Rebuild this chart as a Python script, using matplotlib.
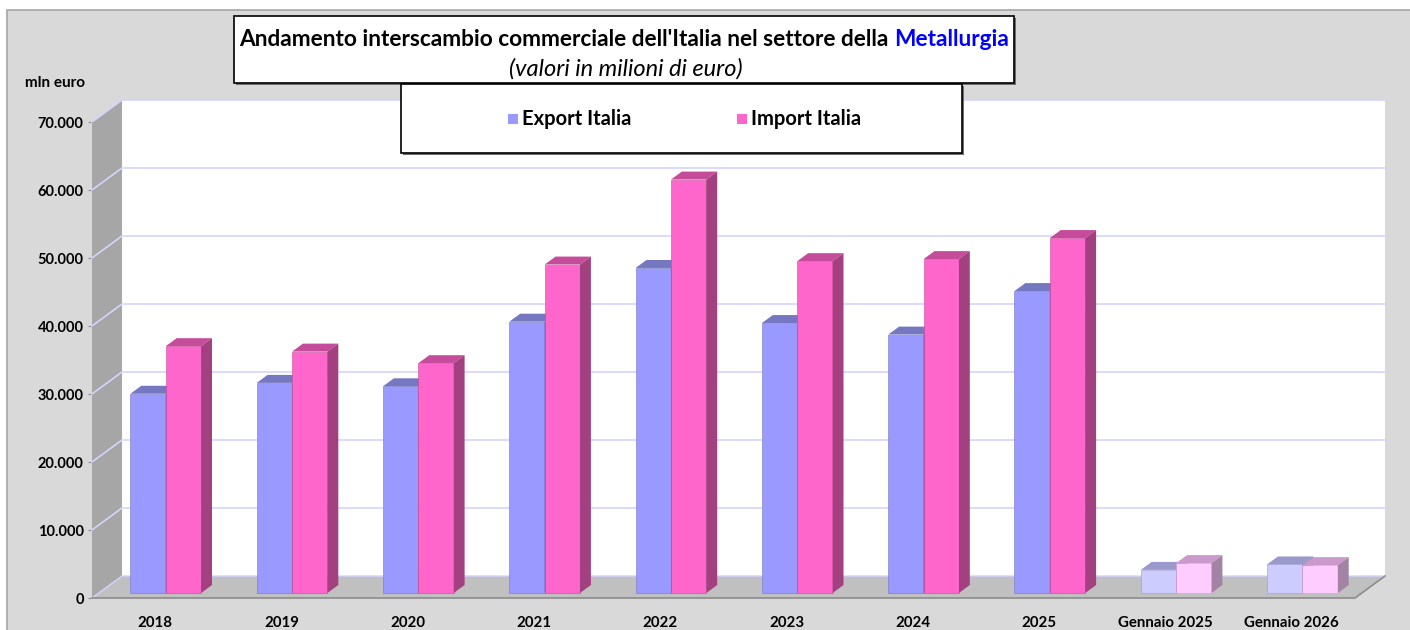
import numpy as np
import matplotlib.pyplot as plt
from matplotlib.patches import Polygon, Rectangle

plt.rcParams['font.family'] = ['Lato', 'DejaVu Sans']

#data
categories = ["2018", "2019", "2020", "2021", "2022", "2023", "2024", "2025",
              "Gennaio 2025", "Gennaio 2026"]
export_vals = [29300, 30900, 30400, 39900, 47800, 39700, 38000, 44400, 3400, 4200]
import_vals = [36300, 35500, 33800, 48300, 60800, 48800, 49100, 52200, 4400, 4100]
series_names = ["Export Italia", "Import Italia"]
y_ticks = [0, 10000, 20000, 30000, 40000, 50000, 60000, 70000]
y_tick_labels = ["0", "10.000", "20.000", "30.000", "40.000", "50.000", "60.000", "70.000"]

#colors (front, top, side) - last two categories are partial months, drawn pale
EXP_FULL = ("#9999ff", "#7577c0", "#5d5fa0")
IMP_FULL = ("#ff66cc", "#c44c9a", "#a3407f")
EXP_PALE = ("#ccccff", "#9999cc", "#8080aa")
IMP_PALE = ("#ffccff", "#cc99cc", "#a383a3")

W_PX, H_PX = 1410, 630


def fx(px):
    return px / W_PX


def fy(py):
    return 1 - py / H_PX


def fig_box(x0, y0, x1, y1, z, shadow=True):
    # box given in pixel coords (top-left origin), with a small drop shadow
    if shadow:
        fig.patches.append(Rectangle((fx(x0 + 2), fy(y1 + 2)), (x1 - x0) / W_PX, (y1 - y0) / H_PX,
                                     transform=fig.transFigure, facecolor="#707070",
                                     edgecolor="none", zorder=z - 0.5))
    fig.patches.append(Rectangle((fx(x0), fy(y1)), (x1 - x0) / W_PX, (y1 - y0) / H_PX,
                                 transform=fig.transFigure, facecolor="white",
                                 edgecolor="black", lw=1.2, zorder=z))


fig = plt.figure(figsize=(W_PX / 100, H_PX / 100), dpi=100)
fig.patch.set_facecolor("white")
fig.patches.append(Rectangle((fx(7), fy(640)), 1.1, (640 - 10) / H_PX,
                             transform=fig.transFigure, facecolor="#d9d9d9",
                             edgecolor="#a6a6a6", lw=1.2, zorder=-1))

ax = fig.add_axes([fx(92), fy(598), 1263 / W_PX, 476 / H_PX])
ax.set_facecolor("none")
ax.set_xlim(-0.5, 9.5)
ax.set_ylim(0, 70000)
for s in ax.spines.values():
    s.set_visible(False)

#3d depth offset in data units
DX = 30 / 126.3
DY = 22 / 476 * 70000
F0, F1 = 0.227, 0.59
BW = 0.28

#walls and floor
ax.add_patch(Polygon([(-0.5, 0), (-0.5, 70000), (-0.5 + DX, 70000 + DY), (-0.5 + DX, DY)],
                     closed=True, facecolor="#a6a6a6", edgecolor="none", clip_on=False, zorder=1))
ax.add_patch(Rectangle((-0.5 + DX, DY), 10, 70000, facecolor="white",
                       edgecolor="none", clip_on=False, zorder=1))
ax.add_patch(Polygon([(-0.5, 0), (9.5, 0), (9.5 + DX, DY), (-0.5 + DX, DY)],
                     closed=True, facecolor="#c0c0c0", edgecolor="none", clip_on=False, zorder=1))
for v in y_ticks[1:]:
    ax.plot([-0.5, -0.5 + DX, 9.5 + DX], [v, v + DY, v + DY], color="#d4d4ff",
            lw=1.2, clip_on=False, zorder=2)
ax.plot([-0.5, -0.5 + DX, 9.5 + DX], [0, DY, DY], color="#d4d4ff", lw=1, clip_on=False, zorder=2)
ax.plot([-0.5, 9.5, 9.5 + DX], [0, 0, DY], color="#8c8c8c", lw=1.2, clip_on=False, zorder=2)


def draw_box(x0, h, cols, z):
    front, top, side = cols
    x = x0 + F0 * DX
    y = F0 * DY
    dx = (F1 - F0) * DX
    dy = (F1 - F0) * DY
    ax.bar(x, h, width=BW, bottom=y, align="edge", color=front, edgecolor=top,
           lw=0.4, zorder=z)
    ax.add_patch(Polygon([(x, y + h), (x + BW, y + h), (x + BW + dx, y + h + dy), (x + dx, y + h + dy)],
                         closed=True, facecolor=top, edgecolor="none", zorder=z))
    ax.add_patch(Polygon([(x + BW, y), (x + BW + dx, y + dy), (x + BW + dx, y + h + dy), (x + BW, y + h)],
                         closed=True, facecolor=side, edgecolor="none", zorder=z))


z = 3
for i, (e, m) in enumerate(zip(export_vals, import_vals)):
    pale = categories[i].startswith("Gennaio")
    draw_box(i - 0.25, e, EXP_PALE if pale else EXP_FULL, z)
    draw_box(i + 0.03, m, IMP_PALE if pale else IMP_FULL, z + 1)
    z += 2

ax.set_yticks(y_ticks, y_tick_labels)
ax.tick_params(axis="y", length=3, color="#8c8c8c", pad=3, labelsize=10.5)
ax.set_xticks(range(len(categories)), categories)
ax.tick_params(axis="x", length=0, pad=13, labelsize=10.8)
for lab in ax.get_xticklabels() + ax.get_yticklabels():
    lab.set_fontweight("bold")

fig.text(fx(55), fy(83), "mln euro", ha="center", va="center", fontsize=11, fontweight="bold")

#title box
fig_box(234, 16, 1014, 83, 5)
renderer = fig.canvas.get_renderer()
t1 = fig.text(0, fy(40), "Andamento interscambio commerciale dell'Italia nel settore della ",
              ha="left", va="center", fontsize=16.3, fontweight="bold", zorder=6)
t2 = fig.text(0, fy(40), "Metallurgia", ha="left", va="center", fontsize=16.3,
              fontweight="bold", color="#0000ff", zorder=6)
w1 = t1.get_window_extent(renderer).width
w2 = t2.get_window_extent(renderer).width
start = (234 + 1015) / 2 - (w1 + w2) / 2
t1.set_x(fx(start))
t2.set_x(fx(start + w1))
fig.text(fx(626), fy(69), "(valori in milioni di euro)", ha="center", va="center",
         fontsize=17, fontstyle="italic", zorder=6)

#legend box
fig_box(401, 84, 962, 153, 7)
for name, col, lx in zip(series_names, [EXP_FULL[0], IMP_FULL[0]], [508, 737]):
    fig.patches.append(Rectangle((fx(lx), fy(124)), 10 / W_PX, 10 / H_PX,
                                 transform=fig.transFigure, facecolor=col,
                                 edgecolor="none", zorder=8))
    fig.text(fx(lx + 14), fy(119), name, ha="left", va="center", fontsize=14.5,
             fontweight="bold", zorder=8)

fig.savefig("out.png", dpi=100)
